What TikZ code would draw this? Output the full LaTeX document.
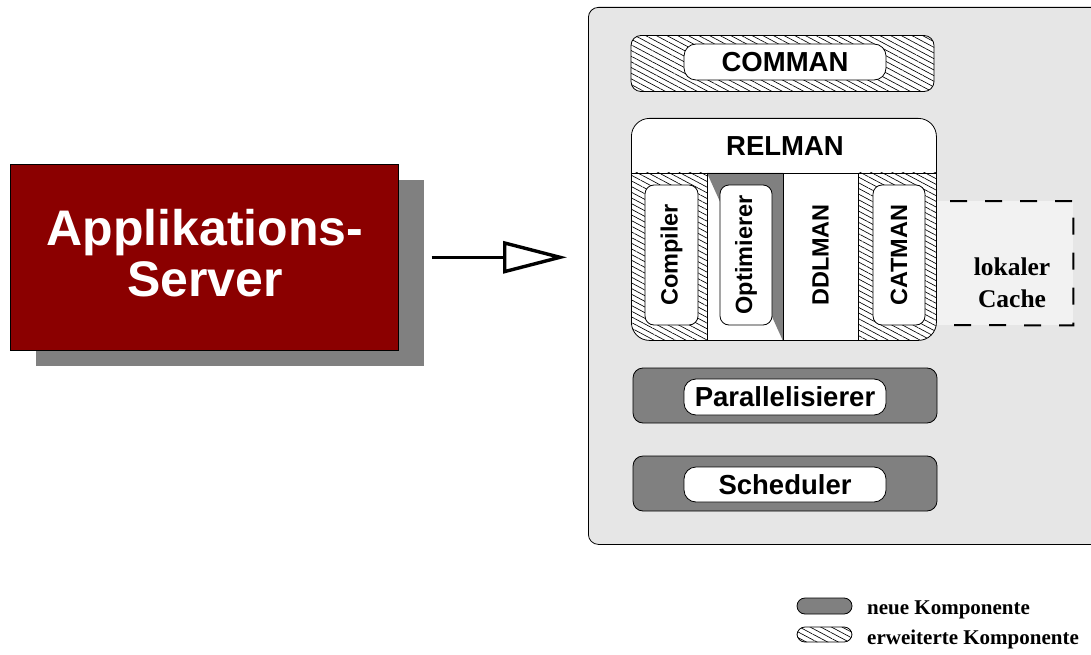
\documentclass[tikz,border=0pt]{standalone}
\usepackage{fontspec}
\setmainfont{Liberation Serif}
\setsansfont{Liberation Sans}
\usetikzlibrary{patterns.meta,arrows.meta}
\definecolor{appred}{HTML}{8B0000}
\definecolor{panel}{HTML}{E6E6E6}
\definecolor{cachebg}{HTML}{F2F2F2}
\definecolor{midgray}{HTML}{808080}
\tikzset{
  outline/.style={draw=black, line width=0.8pt},
  hatch/.style={preaction={fill=white},
    pattern={Lines[angle=-28,distance=5pt,line width=0.65pt]}, pattern color=black},
  newcomp/.style={outline, fill=midgray, rounded corners=10pt, inner sep=0pt},
  extcomp/.style={outline, hatch, rounded corners=10pt, inner sep=0pt},
  pill/.style={outline, fill=white, rounded corners=12pt, inner sep=0pt,
    minimum width=202pt, minimum height=36pt, font=\sffamily\bfseries\fontsize{27.5}{30}\selectfont},
  colbox/.style={outline, fill=white, rounded corners=9pt, inner sep=0pt,
    minimum width=52pt, minimum height=140pt},
  vlabel/.style={rotate=90, font=\sffamily\bfseries\fontsize{23.5}{26}\selectfont},
  hlabel/.style={font=\sffamily\bfseries\fontsize{27.5}{30}\selectfont},
  legtext/.style={anchor=base west, inner sep=0pt, font=\bfseries\fontsize{21}{24}\selectfont},
  cachedash/.style={line width=2pt, dash pattern=on 17pt off 18pt, dash phase=21pt},
}
\begin{document}
\begin{tikzpicture}[x=1pt,y=-1pt]
\useasboundingbox (0,0) rectangle (1091,655);
\clip (0,0) rectangle (1091,655);

% application server with drop shadow
\fill[midgray] (36,180) rectangle (424,366);
\node[fill=appred, draw=black, line width=0.6pt, minimum width=388pt, minimum height=186pt,
      anchor=north west, inner sep=0pt] (app) at (10,164) {};
\node[text=white, align=center, font=\sffamily\bfseries\fontsize{50}{51}\selectfont]
      (applbl) at (205,253) {Applikations-\\Server};

% system panel (runs past the right edge)
\node[outline, fill=panel, rounded corners=10pt, minimum width=520pt, minimum height=537pt,
      anchor=north west, inner sep=0pt] (sys) at (588,7) {};

% request arrow
\draw[line width=3.4pt, -{Triangle[open,length=64pt,width=32pt]},
      shorten <=33pt, shorten >=21pt] (app.east) -- (app.east -| sys.west);

% COMMAN
\node[extcomp, minimum width=303pt, minimum height=56pt] (commanbg) at (782.5,63.5) {};
\node[pill] (comman) at (785,62) {COMMAN};

% local cache
\node[fill=cachebg, minimum width=143pt, minimum height=124pt, anchor=north west,
      inner sep=0pt] (cache) at (930,201) {};
\draw[cachedash] (936,201) -- (cache.north east) -- (cache.south east) -- (936,325);
\node[align=center, font=\bfseries\fontsize{25.5}{32}\selectfont] (cachelbl) at (1012,283)
      {lokaler\\Cache};

% RELMAN body
\begin{scope}
  \clip[rounded corners=18pt] (631,118) rectangle (936,340);
  \fill[white] (630,117) rectangle (937,341);
  \path[hatch] (630,173) rectangle (707,341);
  \path[hatch] (858,173) rectangle (937,341);
  \fill[midgray] (707,173) -- (783,173) -- (783,341) -- cycle;
  \draw[line width=0.8pt] (630,173) -- (937,173);
  \draw[line width=0.8pt] (707,173) -- (707,341);
  \draw[line width=0.8pt] (783,173) -- (783,341);
  \draw[line width=0.8pt] (858,173) -- (858,341);
\end{scope}
\node[outline, rounded corners=18pt, minimum width=305pt, minimum height=222pt,
      anchor=north west, inner sep=0pt] (relman) at (631,118) {};
\node[hlabel] (relmanlbl) at (785,146) {RELMAN};
\node[colbox, minimum width=53pt] (compiler) at (671.5,255) {};
\node[vlabel] at (compiler) {Compiler};
\node[colbox] (optimierer) at (746,255) {};
\node[vlabel] at (optimierer) {Optimierer};
\node[vlabel] (ddlman) at (820.5,255) {DDLMAN};
\node[colbox] (catman) at (899,255) {};
\node[vlabel] at (catman) {CATMAN};

% Parallelisierer and Scheduler
\node[newcomp, minimum width=304pt, minimum height=55pt] (parbg) at (785,395.5) {};
\node[pill] (par) at (785,397) {Parallelisierer};
\node[newcomp, minimum width=304pt, minimum height=55pt] (schedbg) at (785,483.5) {};
\node[pill, minimum height=35pt] (sched) at (785,484.5) {Scheduler};

% legend
\node[newcomp, rounded corners=8pt, minimum width=55pt, minimum height=16pt] (legnew) at (824.5,606) {};
\node[legtext] (legnewtxt) at (867,614) {neue Komponente};
\node[extcomp, rounded corners=8pt, minimum width=55pt, minimum height=15pt] (legext) at (824.5,634.5) {};
\node[legtext] (legexttxt) at (867,644) {erweiterte Komponente};
\end{tikzpicture}
\end{document}
